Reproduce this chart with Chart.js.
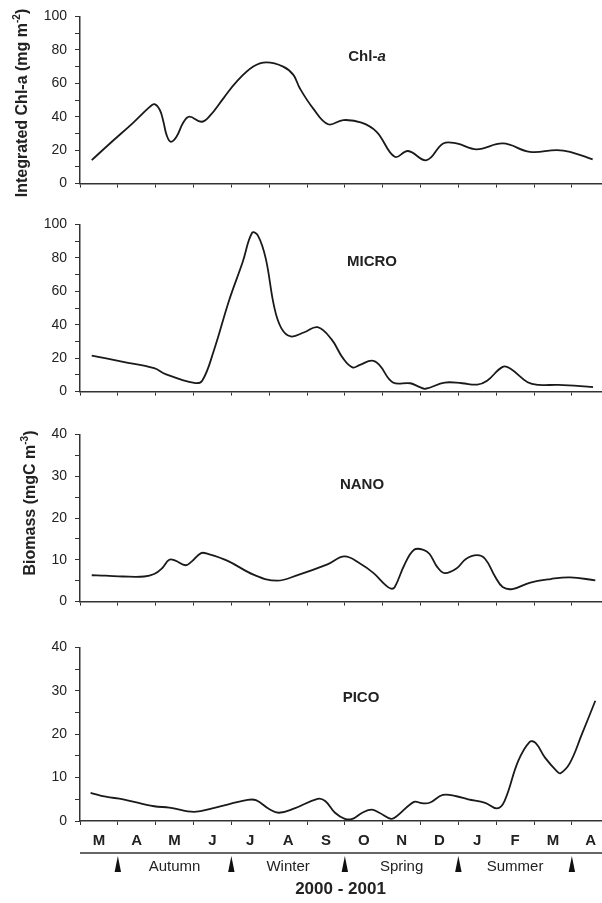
<!DOCTYPE html>
<html>
<head>
<meta charset="utf-8">
<script src="https://cdn.jsdelivr.net/npm/chart.js@4.4.1/dist/chart.umd.min.js"></script>
<style>
    html, body { margin: 0; padding: 0; background: #fff; width: 602px; height: 903px; overflow: hidden; }
    body { position: relative; }
    canvas { position: absolute; left: 0; }
</style>
</head>
<body>
<canvas id="chlChart" width="602" height="200" style="top:0px;width:602px;height:200px"></canvas>
<canvas id="microChart" width="602" height="200" style="top:208px;width:602px;height:200px"></canvas>
<canvas id="nanoChart" width="602" height="200" style="top:418px;width:602px;height:200px"></canvas>
<canvas id="picoChart" width="602" height="272" style="top:631px;width:602px;height:272px"></canvas>
<script>
// x values are months counted from the start of March 2000
const months = ['M', 'A', 'M', 'J', 'J', 'A', 'S', 'O', 'N', 'D', 'J', 'F', 'M', 'A'];
const seasons = ['Autumn', 'Winter', 'Spring', 'Summer'];
const seasonStarts = [1, 4, 7, 10, 13];
const yearLabel = '2000 - 2001';

const chlTime = [0.31, 0.79, 1.41, 1.85, 1.97, 2.11, 2.2, 2.29, 2.4, 2.55, 2.73, 2.89, 3.21, 3.43, 3.79, 4.14, 4.58, 4.93, 5.37, 5.64, 5.81, 6.16, 6.56, 6.96, 7.44, 7.84, 8.32, 8.67, 9.16, 9.6, 9.95, 10.48, 11.18, 11.89, 12.6, 12.95, 13.55];
const chlValues = [14, 24, 36.5, 46, 47.5, 44, 37.5, 29, 25, 28, 36.5, 40, 37, 40.5, 51, 61, 70, 72.5, 70, 65, 57, 45, 35.5, 38, 36.5, 31, 16, 19.5, 14, 24, 24, 20.5, 24, 19, 20, 19, 14.5];

const microTime = [0.31, 1.14, 1.96, 2.26, 3.02, 3.23, 3.53, 3.94, 4.3, 4.55, 4.71, 4.91, 5.13, 5.32, 5.57, 5.93, 6.28, 6.64, 6.95, 7.2, 7.4, 7.71, 7.91, 8.27, 8.73, 8.98, 9.13, 9.64, 10.1, 10.5, 10.76, 11.17, 11.37, 11.83, 12.14, 12.65, 13.56];
const microValues = [21.5, 17.8, 14, 10.5, 5.2, 6.5, 24, 54.5, 77.5, 95, 93, 79.5, 51, 38, 33, 35.5, 38.5, 31.5, 20, 14.5, 16, 18.5, 16, 5.5, 5, 2.7, 1.7, 5.4, 5, 4.2, 6.5, 14.8, 13.8, 5.6, 4, 4, 2.7];

const nanoTime = [0.31, 0.68, 1.14, 1.7, 1.96, 2.16, 2.36, 2.52, 2.79, 2.94, 3.2, 3.38, 3.89, 4.6, 5.21, 5.77, 6.54, 6.99, 7.4, 7.76, 8.07, 8.22, 8.32, 8.57, 8.83, 9.08, 9.24, 9.44, 9.64, 9.95, 10.2, 10.49, 10.71, 10.97, 11.17, 11.43, 11.88, 12.44, 12.95, 13.62];
const nanoValues = [6.3, 6.2, 6, 6, 6.6, 7.9, 10, 9.8, 8.7, 9.5, 11.6, 11.4, 9.8, 6.4, 5, 6.4, 8.9, 10.8, 9.1, 6.8, 4, 3.1, 3.5, 8.7, 12.4, 12.4, 11.4, 8.3, 6.8, 7.9, 10.2, 11.1, 10.2, 6, 3.5, 3, 4.5, 5.4, 5.8, 5.1];

const picoTime = [0.28, 0.68, 1.14, 1.96, 2.36, 3.02, 3.58, 4.4, 4.65, 5.01, 5.26, 5.67, 6.28, 6.48, 6.74, 7.0, 7.2, 7.46, 7.71, 7.91, 8.22, 8.37, 8.83, 9.03, 9.24, 9.59, 9.95, 10.26, 10.71, 11.02, 11.22, 11.58, 11.88, 12.04, 12.29, 12.6, 12.7, 12.95, 13.26, 13.62];
const picoValues = [6.5, 5.6, 5, 3.4, 3.1, 2.1, 3.1, 4.8, 4.8, 2.7, 1.9, 2.9, 5.1, 4.6, 1.9, 0.5, 0.5, 1.9, 2.6, 1.9, 0.5, 1.1, 4.4, 4.1, 4.2, 6, 5.7, 5, 4.2, 2.9, 4.6, 13.8, 18.2, 18, 14.6, 11.5, 11, 13.4, 19.9, 27.7];

const FONT = "'Liberation Sans', Arial, sans-serif";
const INK = '#222';
const X_MAX = 13.77;

// bold label written inside the plot, parts may be italic
const panelLabel = {
    id: 'panelLabel',
    afterDraw(chart, args, o) {
        if (!o.parts) return;
        const ctx = chart.ctx;
        ctx.save();
        ctx.fillStyle = INK;
        ctx.textBaseline = 'middle';
        const fonts = o.parts.map(p => `${p.italic ? 'italic ' : ''}bold 15px ${FONT}`);
        let total = 0;
        o.parts.forEach((p, i) => { ctx.font = fonts[i]; total += ctx.measureText(p.text).width; });
        let x = o.x - total / 2;
        o.parts.forEach((p, i) => {
            ctx.font = fonts[i];
            ctx.textAlign = 'left';
            ctx.fillText(p.text, x, o.y);
            x += ctx.measureText(p.text).width;
        });
        ctx.restore();
    }
};

// rotated axis title with a superscript exponent
const sideTitle = {
    id: 'sideTitle',
    afterDraw(chart, args, o) {
        if (!o.text) return;
        const ctx = chart.ctx;
        ctx.save();
        ctx.translate(o.x, o.y);
        ctx.rotate(-Math.PI / 2);
        ctx.fillStyle = INK;
        ctx.textBaseline = 'middle';
        const big = `bold 16px ${FONT}`, small = `bold 10px ${FONT}`;
        ctx.font = big;
        const w1 = ctx.measureText(o.text).width;
        const w3 = ctx.measureText(')').width;
        ctx.font = small;
        const w2 = ctx.measureText(o.sup).width;
        let x = -(w1 + w2 + w3) / 2;
        ctx.textAlign = 'left';
        ctx.font = big;
        ctx.fillText(o.text, x, 0);
        x += w1;
        ctx.font = small;
        ctx.fillText(o.sup, x, -6);
        x += w2;
        ctx.font = big;
        ctx.fillText(')', x, 0);
        ctx.restore();
    }
};

// season strip under the bottom panel
const seasonStrip = {
    id: 'seasonStrip',
    afterDraw(chart, args, o) {
        if (!o.show) return;
        const ctx = chart.ctx;
        const xs = chart.scales.x;
        const lineY = 222;
        ctx.save();
        ctx.strokeStyle = '#333';
        ctx.lineWidth = 1.5;
        ctx.beginPath();
        ctx.moveTo(chart.chartArea.left, lineY);
        ctx.lineTo(chart.width, lineY);
        ctx.stroke();

        ctx.fillStyle = '#111';
        seasonStarts.forEach(v => {
            const px = xs.getPixelForValue(v);
            ctx.beginPath();
            ctx.moveTo(px, lineY + 3);
            ctx.lineTo(px + 3.2, lineY + 19);
            ctx.lineTo(px - 3.2, lineY + 19);
            ctx.closePath();
            ctx.fill();
        });

        ctx.fillStyle = INK;
        ctx.textAlign = 'center';
        ctx.textBaseline = 'middle';
        ctx.font = `15px ${FONT}`;
        seasons.forEach((s, i) => {
            const mid = (seasonStarts[i] + seasonStarts[i + 1]) / 2;
            ctx.fillText(s, xs.getPixelForValue(mid), 236);
        });

        ctx.font = `bold 17px ${FONT}`;
        ctx.fillText(yearLabel, (chart.chartArea.left + chart.chartArea.right) / 2, 258);
        ctx.restore();
    }
};

function makePanel(id, time, values, cfg) {
    const ctx = document.getElementById(id)?.getContext('2d');
    if (!ctx) return null;

    const scales = {
        x: {
            type: 'linear',
            min: 0,
            max: X_MAX,
            position: 'bottom',
            weight: 0,
            afterBuildTicks: s => { s.ticks = months.map((m, i) => ({ value: i })); },
            afterFit: s => { s.height = cfg.bottom ? 6 : 10; },
            ticks: { callback: () => '', autoSkip: false, maxRotation: 0 },
            grid: { drawOnChartArea: false, drawTicks: true, tickLength: 4, color: '#333', lineWidth: 1 },
            border: { display: true, color: '#333', width: 1.5 }
        },
        y: {
            min: 0,
            max: cfg.max,
            afterFit: s => { s.width = 80; },
            ticks: {
                stepSize: cfg.step,
                autoSkip: false,
                padding: 8,
                color: INK,
                font: { family: FONT, size: 14 },
                callback: v => (v % (cfg.step * 2) === 0 ? v : '')
            },
            grid: { drawOnChartArea: false, drawTicks: true, tickLength: 5, color: '#333', lineWidth: 1 },
            border: { display: true, color: '#333', width: 1.5 }
        }
    };

    if (cfg.bottom) {
        scales.xm = {
            type: 'linear',
            min: 0,
            max: X_MAX,
            position: 'bottom',
            weight: 1,
            afterBuildTicks: s => { s.ticks = months.map((m, i) => ({ value: i + 0.5 })); },
            afterFit: s => { s.height = 76; },
            ticks: {
                autoSkip: false,
                maxRotation: 0,
                padding: 5,
                color: INK,
                font: { family: FONT, size: 15, weight: 'bold' },
                callback: (v, i) => months[i]
            },
            grid: { display: true, drawOnChartArea: false, drawTicks: false },
            border: { display: false }
        };
    }

    return new Chart(ctx, {
        type: 'line',
        data: {
            datasets: [{
                data: time.map((t, i) => ({ x: t, y: values[i] })),
                borderColor: '#1a1a1a',
                borderWidth: 1.8,
                pointRadius: 0,
                tension: 0.4,
                fill: false
            }]
        },
        options: {
            responsive: false,
            animation: false,
            layout: { padding: { top: 15, right: 1, bottom: 0, left: 0 } },
            scales,
            plugins: {
                legend: { display: false },
                tooltip: { enabled: false },
                panelLabel: cfg.label,
                sideTitle: cfg.title || {},
                seasonStrip: { show: !!cfg.bottom }
            }
        },
        plugins: [panelLabel, sideTitle, seasonStrip]
    });
}

makePanel('chlChart', chlTime, chlValues, {
    max: 100, step: 10,
    label: { x: 367, y: 57, parts: [{ text: 'Chl-' }, { text: 'a', italic: true }] },
    title: { x: 23, y: 103, text: 'Integrated Chl-a (mg m', sup: '-2' }
});

makePanel('microChart', microTime, microValues, {
    max: 100, step: 10,
    label: { x: 372, y: 54, parts: [{ text: 'MICRO' }] }
});

makePanel('nanoChart', nanoTime, nanoValues, {
    max: 40, step: 5,
    label: { x: 362, y: 67, parts: [{ text: 'NANO' }] },
    title: { x: 31, y: 85, text: 'Biomass (mgC m', sup: '-3' }
});

makePanel('picoChart', picoTime, picoValues, {
    max: 40, step: 5, bottom: true,
    label: { x: 361, y: 67, parts: [{ text: 'PICO' }] }
});
</script>
</body>
</html>
